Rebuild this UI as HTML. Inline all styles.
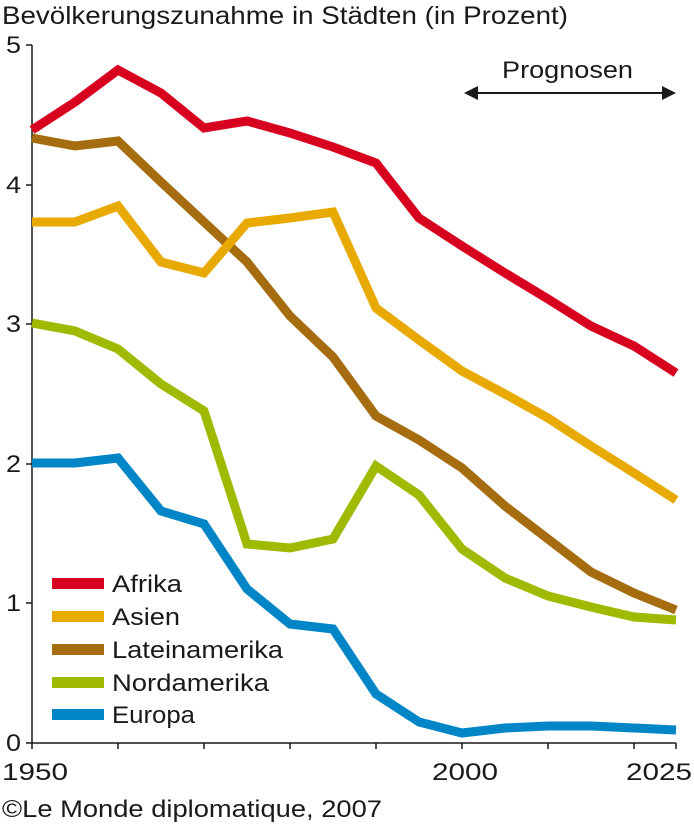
<!DOCTYPE html>
<html><head><meta charset="utf-8"><style>
body{margin:0;background:#fff;}
svg text{font-family:"Liberation Sans",sans-serif;fill:#1a1a1a;}
</style></head><body>
<svg width="694" height="827" viewBox="0 0 694 827" xmlns="http://www.w3.org/2000/svg">
<text x="2" y="24" font-size="25" textLength="566" lengthAdjust="spacingAndGlyphs">Bevölkerungszunahme in Städten (in Prozent)</text>
<g font-size="24">
<text x="6" y="53" textLength="15" lengthAdjust="spacingAndGlyphs">5</text><text x="6" y="193" textLength="15" lengthAdjust="spacingAndGlyphs">4</text><text x="6" y="332" textLength="15" lengthAdjust="spacingAndGlyphs">3</text>
<text x="6" y="472" textLength="15" lengthAdjust="spacingAndGlyphs">2</text><text x="6" y="611" textLength="15" lengthAdjust="spacingAndGlyphs">1</text><text x="6" y="751" textLength="15" lengthAdjust="spacingAndGlyphs">0</text>
</g>
<g stroke="#1a1a1a" stroke-width="1.5" fill="none">
<path d="M32 45V743H676"/>
<path d="M26 45H32M26 185H32M26 324H32M26 464H32M26 603H32M26 743H32"/>
<path d="M32 743v6M118 743v6M204 743v6M290 743v6M376 743v6M462 743v6M548 743v6M634 743v6M676 743v6"/>
</g>
<g font-size="24">
<text x="2" y="780" textLength="66" lengthAdjust="spacingAndGlyphs">1950</text><text x="432" y="780" textLength="66" lengthAdjust="spacingAndGlyphs">2000</text><text x="626" y="780" textLength="66" lengthAdjust="spacingAndGlyphs">2025</text>
<text x="2" y="817" textLength="380" lengthAdjust="spacingAndGlyphs">©Le Monde diplomatique, 2007</text>
<text x="502" y="78" textLength="131" lengthAdjust="spacingAndGlyphs">Prognosen</text>
</g>
<g stroke="#1a1a1a" stroke-width="2"><path d="M470 93H670"/></g>
<path d="M464 93l14-7v14z M676 93l-14-7v14z" fill="#1a1a1a"/>
<g fill="none" stroke-width="9" stroke-linejoin="miter">
<polyline stroke="#0086c6" points="32,463 75,463 118,458 161,511 204,524 247,589 290,624 333,629 376,694 419,722 462,733 505,728 548,726 591,726 634,728 676,730"/>
<polyline stroke="#9fba00" points="32,323 75,331 118,349 161,384 204,411 247,544 290,548 333,539 376,466 419,495 462,549 505,578 548,596 591,607 634,617 676,620"/>
<polyline stroke="#a56d10" points="32,138 75,146 118,141 161,182 204,222 247,262 290,316 333,357 376,416 419,440 462,468 505,506 548,539 591,572 634,593 676,610"/>
<polyline stroke="#e8a900" points="32,222 75,222 118,206 161,262 204,273 247,223 290,218 333,212 376,308 419,340 462,371 505,394 548,418 591,446 634,473 676,500"/>
<polyline stroke="#d7001e" points="32,130 75,102 118,70 161,93 204,128 247,121 290,133 333,147 376,163 419,218 462,246 505,273 548,299 591,326 634,346 676,373"/>
</g>
<g>
<rect x="52" y="578" width="52" height="11" fill="#d7001e"/>
<rect x="52" y="611" width="52" height="11" fill="#e8a900"/>
<rect x="52" y="644" width="52" height="11" fill="#a56d10"/>
<rect x="52" y="677" width="52" height="11" fill="#9fba00"/>
<rect x="52" y="709" width="52" height="11" fill="#0086c6"/>
</g>
<g font-size="24">
<text x="112" y="592" textLength="70" lengthAdjust="spacingAndGlyphs">Afrika</text>
<text x="112" y="625" textLength="68" lengthAdjust="spacingAndGlyphs">Asien</text>
<text x="112" y="658" textLength="171" lengthAdjust="spacingAndGlyphs">Lateinamerika</text>
<text x="112" y="691" textLength="157" lengthAdjust="spacingAndGlyphs">Nordamerika</text>
<text x="112" y="723" textLength="83" lengthAdjust="spacingAndGlyphs">Europa</text>
</g>
</svg>
</body></html>
